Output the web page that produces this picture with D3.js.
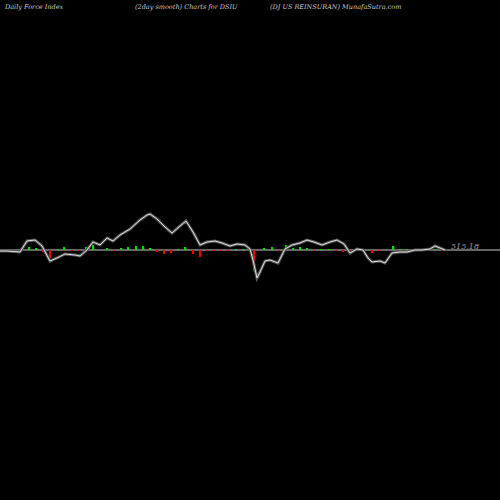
<!DOCTYPE html>
<html><head><script src="https://cdn.jsdelivr.net/npm/d3@7"></script>
<style>body{margin:0;background:#000}</style></head>
<body><svg id="c" width="500" height="500"></svg>
<script>
// smoothed force index line (x position in chart units, value)
var lineX = [0,7,20,27,35,42,50,57,65,75,80,87,93,100,107,113,120,130,140,147,150,157,165,172,180,186,193,200,207,215,222,230,237,245,250,253,257,260,265,270,278,285,292,300,307,314,322,330,337,344,350,357,363,368,372,380,385,392,400,407,415,422,430,435,440,445];
var lineV = [-1,-1,-2,9,10,4,-11,-8,-4,-5,-6,0,8,5,12,9,15,21,30,35,36,31,23,17,24,29,18,5,8,9,7,4,6,5,1,-10,-28,-22,-11,-10,-13,1,5,7,10,8,5,8,10,6,-3,1,0,-8,-12,-11,-13,-3,-2,-2,0,0,1,4,2,0];
// daily force index bars
var barX = [29,36,43,50,58,64,72,79,86,93,107,114,121,128,136,143,150,157,164,171,178,185,193,200,207,214,221,228,236,243,254,264,272,279,286,293,300,307,314,321,329,336,343,350,364,372,379,393,400,407,414,421,428,435,442];
var barV = [3,2,-2,-8,1,3,-1,-1,3,5,2,-1,2,3,4,4,2,-2,-4,-3,1,3,-4,-7,-1,-1,-1,-1,1,1,-21,2,3,-1,5,2,3,2,-1,1,1,-1,-2,-1,-1,-3,-1,4,1,1,1,1,-1,1,-1];
var titles = ["Daily Force  Index", "(2day smooth) Charts for DSIU", "(DJ US REINSURAN) MunafaSutra.com"];
var titleX = [5, 135, 270];

var svg = d3.select('#c');
var x = d3.scaleLinear().domain([0,500]).range([0,500]);
var y = d3.scaleLinear().domain([-250,250]).range([500,0]);

svg.selectAll('text.t').data(titles).enter().append('text')
  .attr('x', function(d,i){ return titleX[i]; }).attr('y', 9)
  .attr('fill', '#ccc').attr('font-family', 'DejaVu Serif').attr('font-style', 'italic')
  .attr('font-size', 6.5).text(function(d){ return d; });

svg.append('line').attr('x1',0).attr('x2',500).attr('y1',y(0)).attr('y2',y(0))
  .attr('stroke','#888').attr('stroke-width',1.5);

svg.selectAll('rect.b').data(barV).enter().append('rect')
  .attr('x', function(d,i){ return x(barX[i]) - 1; }).attr('width', 2.2)
  .attr('y', function(d){ return d > 0 ? y(d) : y(0); })
  .attr('height', function(d){ return Math.abs(y(d) - y(0)); })
  .attr('fill', function(d){ return d > 0 ? '#00dd00' : '#ee0000'; });

var line = d3.line().x(function(d,i){ return x(lineX[i]); }).y(function(d){ return y(d); });
svg.append('path').attr('d', line(lineV)).attr('fill','none').attr('stroke','#555').attr('stroke-width',3);
svg.append('path').attr('d', line(lineV)).attr('fill','none').attr('stroke','#ddd').attr('stroke-width',1);

svg.append('text').attr('x', 451).attr('y', y(0) - 1).attr('fill','#999')
  .attr('font-family','DejaVu Serif').attr('font-style','italic').attr('font-size', 8).text('515.18');
</script></body></html>
